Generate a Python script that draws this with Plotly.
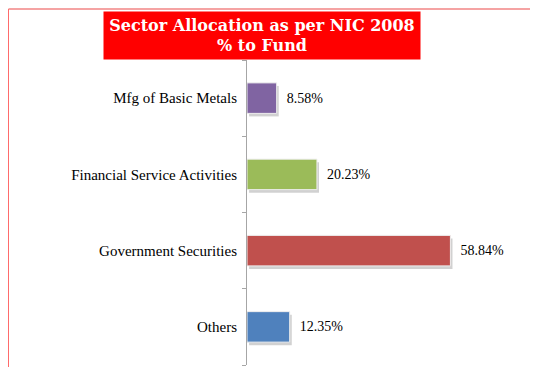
import plotly.graph_objects as go

# Sector allocation, bottom to top as drawn
sectors = ["Others", "Government Securities", "Financial Service Activities", "Mfg of Basic Metals"]
weights = [12.35, 58.84, 20.23, 8.58]
colours = ["#4f81bd", "#c0504d", "#9bbb59", "#8064a2"]

# page has an 8px body margin, so layout numbers are target - 8
L, T, W, H = 239, 52, 242, 305
serif = "Times New Roman, Liberation Serif, serif"

fig = go.Figure()
# soft drop shadow behind each bar
fig.add_trace(go.Bar(
    y=sectors, x=weights, orientation="h", base=0.6,
    marker=dict(color="rgba(0,0,0,0.18)", line=dict(width=0)),
    width=0.4, offset=-0.24, hoverinfo="skip",
))
fig.add_trace(go.Bar(
    y=sectors, x=weights, orientation="h",
    marker=dict(color=colours, line=dict(color="#eeeeee", width=1)),
    width=0.4, offset=-0.2,
    texttemplate="\u00a0\u00a0%{x:.2f}%", textposition="outside",
    textfont=dict(family=serif, size=14, color="black"),
    cliponaxis=False,
))

fig.update_layout(
    width=538, height=367,
    margin=dict(l=L, r=538 - L - W, t=T, b=367 - T - H),
    plot_bgcolor="white", paper_bgcolor="white",
    showlegend=False, barmode="overlay",
    font=dict(family=serif, size=15, color="black"),
)
fig.update_xaxes(range=[0, 70], visible=False)
fig.update_yaxes(
    type="category", categoryorder="array", categoryarray=sectors,
    range=[-0.5, 3.5], tickson="boundaries", ticks="outside", ticklen=4,
    tickcolor="#a6a6a6", showline=True, linecolor="#a6a6a6", linewidth=1,
    showgrid=False, ticklabelstandoff=6,
)


def px_x(v):
    return (v - 8 - L) / W


def px_y(v):
    return (367 - (v - 8) - (367 - T - H)) / H


# title box
fig.add_annotation(
    text="Sector Allocation as per NIC 2008<br>% to Fund",
    xref="paper", yref="paper", x=px_x(262), y=px_y(35.5),
    xanchor="center", yanchor="middle", showarrow=False,
    bgcolor="#ff0000", width=314, height=45,
    font=dict(family="DejaVu Serif", size=16, color="white", weight="bold"),
)

# page border (left edge sits right at the page edge)
fig.add_shape(type="line", xref="paper", yref="paper",
              x0=px_x(8.5), x1=px_x(560), y0=px_y(9), y1=px_y(9),
              line=dict(color="#f5a3a3", width=2))
fig.add_shape(type="line", xref="paper", yref="paper",
              x0=px_x(8.5), x1=px_x(8.5), y0=px_y(9), y1=px_y(380),
              line=dict(color="#ff6b6b", width=1))

fig.write_html("out.html")
